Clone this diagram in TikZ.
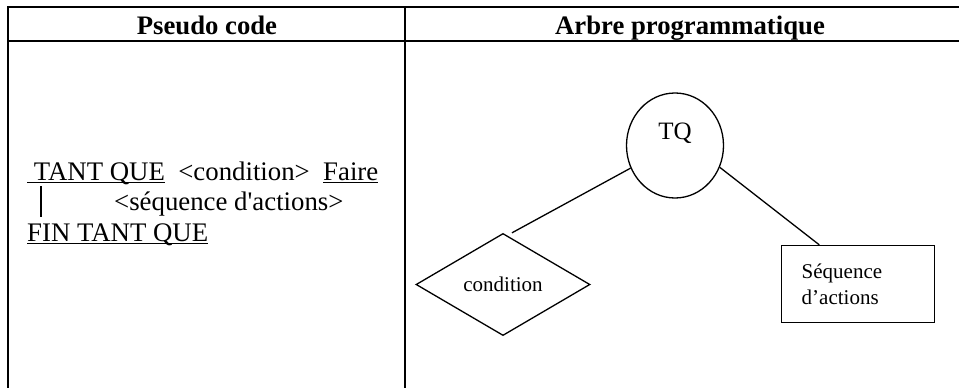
\documentclass[tikz,border=0pt]{standalone}
\usepackage{fontspec}
\setmainfont{Liberation Serif}
\usepackage{tikz}
\usetikzlibrary{positioning,shapes.geometric}
\newcommand\ulword[1]{\setbox0\hbox{#1}\rlap{\rule[-3pt]{\wd0}{1.5pt}}\box0}
\tikzset{
  tabline/.style={line width=2pt,black},
  head/.style={font=\fontsize{26.7}{30}\selectfont\bfseries,inner sep=0pt,anchor=base},
  code/.style={font=\fontsize{26.8}{30.7}\selectfont,inner sep=0pt,anchor=base west},
  lab/.style={font=\fontsize{21}{25.7}\selectfont},
  tqv/.style={ellipse,draw,line width=1.3pt,minimum width=97pt,minimum height=105pt,inner sep=0pt},
  condv/.style={diamond,draw,line width=1.3pt,minimum width=174pt,minimum height=77pt,inner sep=2pt,lab},
  seqv/.style={rectangle,draw,line width=1.3pt,minimum width=153pt,minimum height=77pt,
    text width=112pt,inner xsep=20.5pt,align=left,lab},
  branch/.style={line width=1.3pt}
}

\begin{document}
\begin{tikzpicture}[x=1pt,y=-1pt]
  \useasboundingbox (0,0) rectangle (959,388);
  % table
  \draw[tabline] (8,388) -- (8,7) -- (959,7);
  \draw[tabline] (8,41) -- (959,41);
  \draw[tabline] (405,7) -- (405,388);
  \node[head] (h1) at (207,34.5) {Pseudo code};
  \node[head] (h2) at (690,34.5) {Arbre programmatique};
  % pseudo code
  \node[code] (l1) at (27,180) {\ulword{\ TANT QUE}\ \ <condition>\ \ \ulword{Faire}};
  \node[code] (l2) at (114,210.5) {<séquence d\textquotesingle actions>};
  \node[code] (l3) at (27,241) {\ulword{FIN TANT QUE}};
  \draw[tabline] (41,186) -- (41,217);
  % tree
  \node[tqv] (tq) at (675,145.5) {};
  \node[lab,font=\fontsize{25}{30}\selectfont,anchor=base,inner sep=0pt] (tqt) at (675,139) {TQ};
  \node[condv] (cond) at (503,284.5) {condition};
  \node[seqv] (seq) at (857.7,284) {Séquence\\d’actions};
  \draw[branch] ([xshift=9pt]cond.north) -- (tq.207);
  \draw[branch] (tq.334) -- ([xshift=-38.4pt]seq.north);
\end{tikzpicture}
\end{document}
